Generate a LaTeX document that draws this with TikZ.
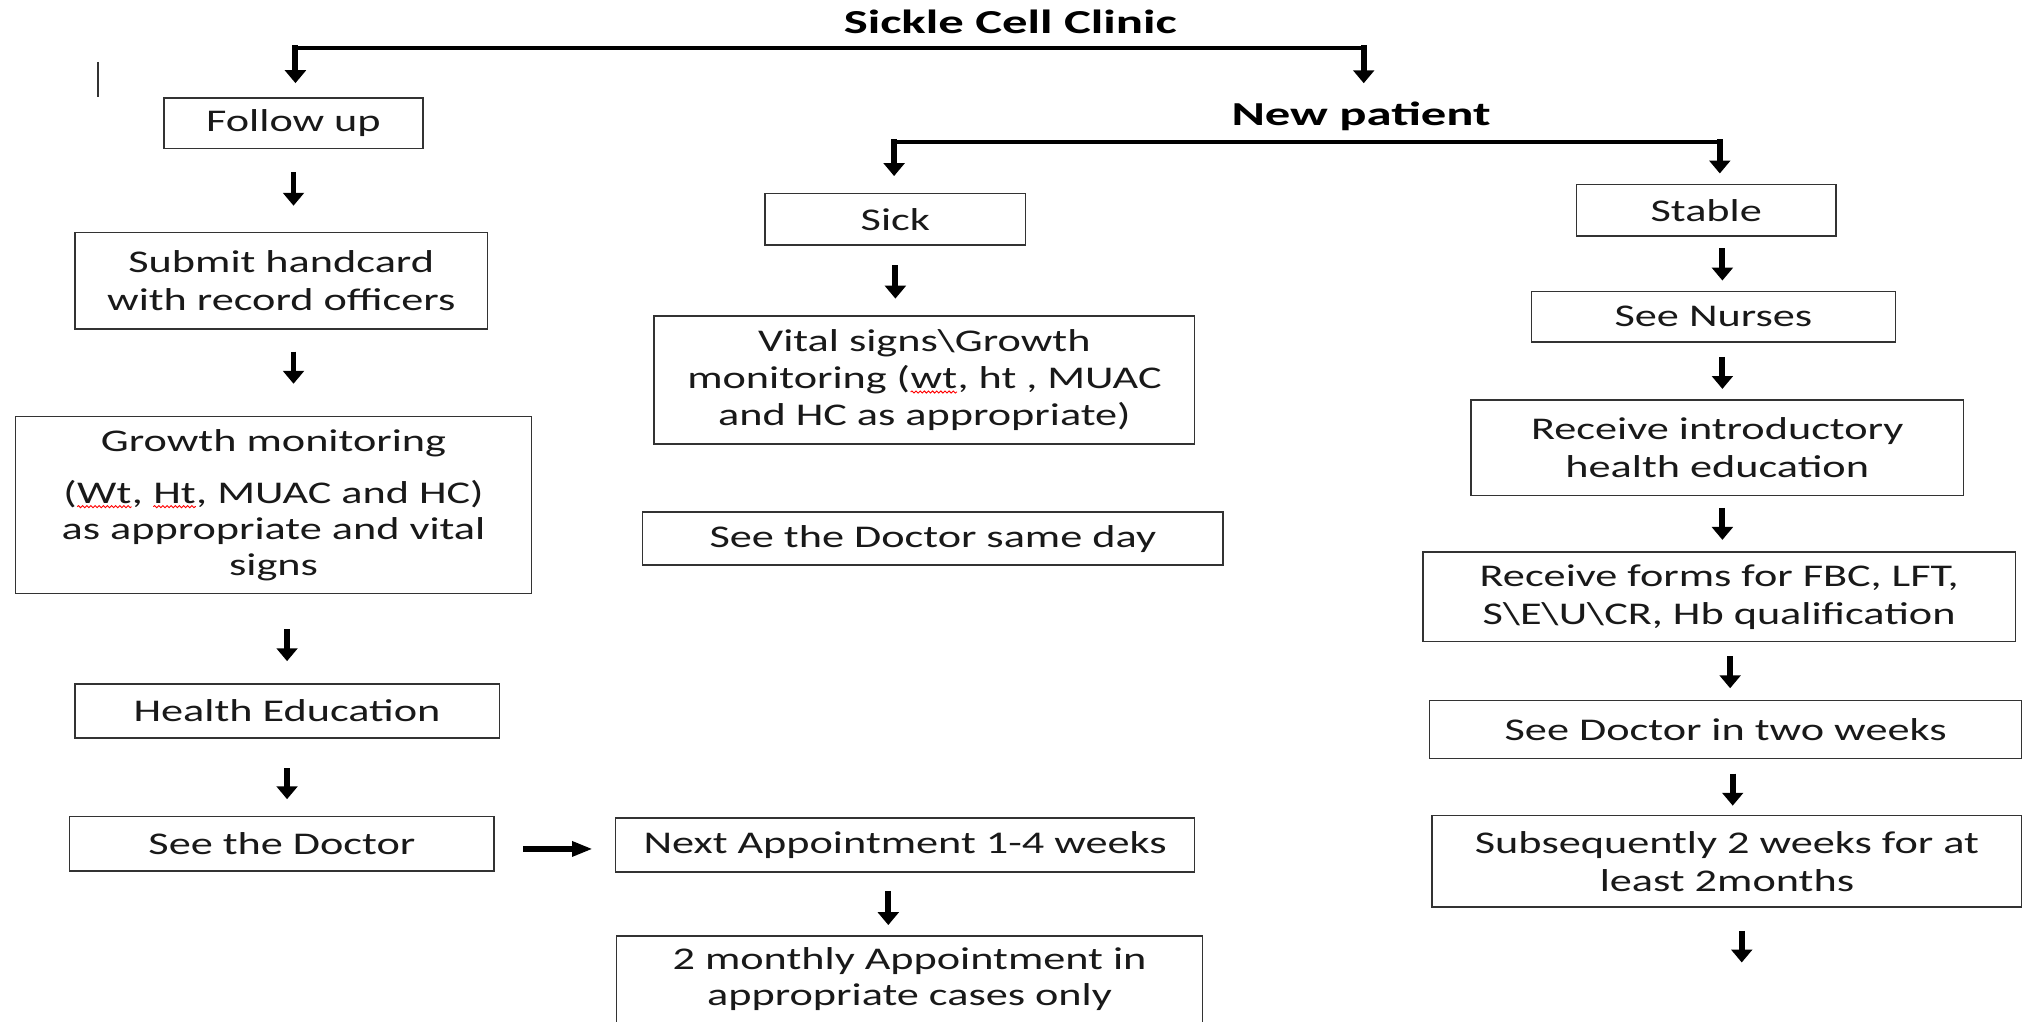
\documentclass[tikz,border=0pt]{standalone}
\usepackage{fontspec}
\setmainfont{Carlito}[FakeStretch=1.4]
\usetikzlibrary{arrows.meta,decorations.pathmorphing,calc}
\newcommand\spellmark[1]{\tikz[baseline=(w.base)]{\node[inner sep=0pt,outer sep=0pt,minimum width=0pt,minimum height=0pt,draw=none,fill=none] (w) {#1};\draw[red,line width=0.7pt,decorate,decoration={snake,amplitude=0.8pt,segment length=3.2pt}] ([yshift=-2.8pt]w.base west) -- ([yshift=-2.8pt]w.base east);}}
\begin{document}
\begin{tikzpicture}[x=1pt,y=-1pt,
  box/.style={draw=black!80,line width=1.1pt,align=center,inner sep=0pt,
    font=\fontsize{24.5}{29.5}\selectfont,text=black!90},
  wh/.style 2 args={minimum width=#1pt,minimum height=#2pt},
  hd/.style={font=\fontsize{26}{30}\selectfont\bfseries,inner sep=0pt,text=black},
  arr/.style={line width=4.6pt,-{Triangle[width=16pt,length=10pt]}},
  harr/.style={line width=4.4pt,-{Triangle[width=11pt,length=16pt]}},
  hbar/.style={line width=3.2pt,line cap=rect},
  drop/.style={line width=4.6pt,line cap=rect,-{Triangle[width=16pt,length=10pt]}}]
\fill[white] (0,0) rectangle (1568,792);
\useasboundingbox (0,0) rectangle (1568,792);

% headings
\node[hd,anchor=base] (title) at (783,26) {\scalebox{1.08}[1]{Sickle Cell Clinic}};
\node[hd,anchor=base] (np) at (1055,97) {\scalebox{1.08}[1]{New patient}};

% follow up column
\node[box,wh={201}{39}] (fu) at (227.5,95.5) {Follow up};
\node[box,wh={320}{75}] (sub) at (218,217.5) {Submit handcard\\with record officers};
\node[box,wh={400}{137},font=\fontsize{24.5}{28}\selectfont] (grow) at (212,391.5)
  {Growth monitoring\\[12pt](\spellmark{Wt}, \spellmark{Ht}, MUAC and HC)\\as appropriate and vital\\signs};
\node[box,wh={329}{42}] (he) at (222.5,551) {Health Education};
\node[box,wh={329}{42}] (sd) at (218.5,654) {See the Doctor};
\node[box,wh={449}{42}] (next) at (701.5,655) {Next Appointment 1-4 weeks};
\node[box,wh={454}{0},anchor=north,inner ysep=9pt,font=\fontsize{24.5}{28}\selectfont] (mon) at (705,725)
  {2 monthly Appointment in\\appropriate cases only\\[40pt]\mbox{}};

% sick column
\node[box,wh={202}{40}] (sick) at (694,170) {Sick};
\node[box,wh={419}{99},font=\fontsize{24.5}{28.5}\selectfont] (vital) at (716.5,294.5)
  {Vital signs\textbackslash Growth\\monitoring (\spellmark{wt}, ht , MUAC\\and HC as appropriate)};
\node[box,wh={450}{41}] (same) at (723,417.5) {See the Doctor same day};

% stable column
\node[box,wh={201}{40}] (stable) at (1322.5,163) {Stable};
\node[box,wh={282}{39}] (nurse) at (1328,245.5) {See Nurses};
\node[box,wh={382}{74}] (intro) at (1331,347) {Receive introductory\\health education};
\node[box,wh={459}{69}] (forms) at (1332.5,462.5) {Receive forms for FBC, LFT,\\S\textbackslash E\textbackslash U\textbackslash CR, Hb qualification};
\node[box,wh={459}{45}] (sd2) at (1337.5,565.5) {See Doctor in two weeks};
\node[box,wh={457}{71}] (subq) at (1338.5,667.5) {Subsequently 2 weeks for at\\least 2months};

% branch bars
\coordinate (c1) at (229,37);
\coordinate (c2) at (1057,37);
\draw[hbar] (c1) -- (c2);
\draw[drop,shorten >=11pt] (c1) -- (c1 |- fu.north);
\draw[drop] (c2) -- ([yshift=14pt]c2 |- np.north);
\coordinate (d1) at (693,110);
\coordinate (d2) at (1333,110);
\draw[hbar] (d1) -- (d2);
\draw[drop,shorten >=13pt] (d1) -- (d1 |- sick.north);
\draw[drop,shorten >=8pt] (d2) -- (d2 |- stable.north);

% follow-up arrows
\draw[arr,shorten <=18pt,shorten >=20pt] (fu.south) -- (fu.south |- sub.north);
\draw[arr,shorten <=17pt,shorten >=25pt] (fu.south |- sub.south) -- (fu.south |- grow.north);
\draw[arr,shorten <=27pt,shorten >=17pt] (he.north |- grow.south) -- (he.north);
\draw[arr,shorten <=23pt,shorten >=13pt] (he.south) -- (he.south |- sd.north);
\draw[harr,shorten <=22pt,shorten >=17pt] ([yshift=-4pt]sd.east) -- ([yshift=-4pt]sd.east -| next.west);
\draw[arr,shorten <=14pt,shorten >=8pt] ([xshift=-13pt]next.south) -- ([xshift=-13pt]next.south |- mon.north);

% sick arrow
\draw[arr,shorten <=15pt,shorten >=13pt] (sick.south) -- (sick.south |- vital.north);

% stable arrows
\draw[arr,shorten <=9pt,shorten >=8pt] ([xshift=12.5pt]stable.south) -- ([xshift=12.5pt]stable.south |- nurse.north);
\draw[arr,shorten <=11pt,shorten >=8pt] ([xshift=7pt]nurse.south) -- ([xshift=7pt]nurse.south |- intro.north);
\draw[arr,shorten <=9pt,shorten >=9pt] ([xshift=4pt]intro.south) -- ([xshift=4pt]intro.south |- forms.north);
\draw[arr,shorten <=11pt,shorten >=9pt] ([xshift=8.5pt]forms.south) -- ([xshift=8.5pt]forms.south |- sd2.north);
\draw[arr,shorten <=11pt,shorten >=7pt] ([xshift=5.5pt]sd2.south) -- ([xshift=5.5pt]sd2.south |- subq.north);
\coordinate (endp) at (1350,746);
\draw[arr,shorten <=18pt] (endp |- subq.south) -- (endp);

% text cursor mark
\coordinate (cur1) at (76,48);
\coordinate (cur2) at (76,75);
\draw[line width=1pt,black!80] (cur1) -- (cur2);
\end{tikzpicture}
\end{document}
